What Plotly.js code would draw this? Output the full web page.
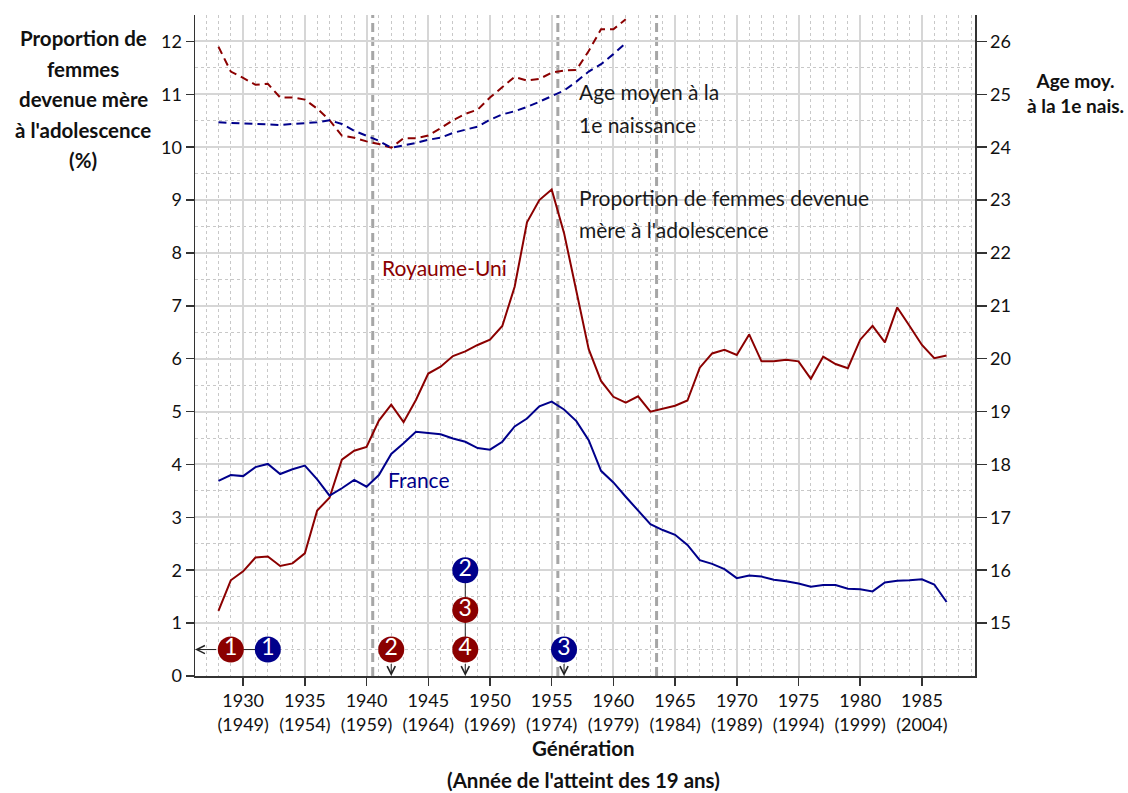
<!DOCTYPE html>
<html>
<head>
<meta charset="utf-8">
<script src="https://cdn.plot.ly/plotly-3.0.1.min.js"></script>
<style>html,body{margin:0;padding:0;background:#fff;}#chart{width:1128px;height:793px;}</style>
</head>
<body>
<div id="chart"></div>
<script>
// ---- data ----
const years = [1928,1929,1930,1931,1932,1933,1934,1935,1936,1937,1938,1939,1940,1941,1942,1943,1944,1945,1946,1947,1948,1949,1950,1951,1952,1953,1954,1955,1956,1957,1958,1959,1960,1961,1962,1963,1964,1965,1966,1967,1968,1969,1970,1971,1972,1973,1974,1975,1976,1977,1978,1979,1980,1981,1982,1983,1984,1985,1986,1987];
const ukTeen = [1.23,1.81,1.98,2.24,2.26,2.08,2.13,2.32,3.13,3.37,4.09,4.26,4.33,4.83,5.13,4.80,5.22,5.72,5.85,6.05,6.14,6.26,6.36,6.62,7.36,8.58,9.00,9.20,8.38,7.25,6.18,5.58,5.28,5.17,5.29,5.00,5.06,5.11,5.21,5.83,6.10,6.17,6.07,6.46,5.95,5.95,5.98,5.95,5.62,6.04,5.90,5.82,6.36,6.62,6.31,6.97,6.62,6.26,6.01,6.06];
const frTeen = [3.69,3.80,3.78,3.95,4.01,3.82,3.91,3.98,3.72,3.41,3.55,3.71,3.58,3.80,4.20,4.40,4.62,4.59,4.57,4.49,4.43,4.31,4.28,4.43,4.72,4.87,5.10,5.19,5.04,4.82,4.46,3.88,3.66,3.39,3.14,2.87,2.76,2.67,2.48,2.19,2.12,2.02,1.85,1.90,1.88,1.82,1.79,1.75,1.69,1.72,1.72,1.65,1.64,1.60,1.77,1.80,1.81,1.83,1.73,1.40];
const ageYears = [1928,1929,1930,1931,1932,1933,1934,1935,1936,1937,1938,1939,1940,1941,1942,1943,1944,1945,1946,1947,1948,1949,1950,1951,1952,1953,1954,1955,1956,1957,1958,1959,1960,1961];
const ukAge = [25.90,25.43,25.31,25.18,25.20,24.94,24.94,24.90,24.73,24.51,24.22,24.18,24.11,24.06,23.99,24.17,24.17,24.22,24.36,24.51,24.63,24.71,24.94,25.14,25.33,25.26,25.29,25.41,25.45,25.46,25.82,26.23,26.23,26.42];
const frAge = [24.47,24.46,24.44,24.43,24.42,24.42,24.44,24.45,24.47,24.51,24.44,24.31,24.22,24.12,23.99,24.03,24.08,24.14,24.18,24.27,24.33,24.39,24.52,24.62,24.68,24.76,24.86,24.96,25.07,25.24,25.43,25.57,25.76,25.97];

const xTickYears = [1930,1935,1940,1945,1950,1955,1960,1965,1970,1975,1980,1985];
const xTickLabels = ['1930<br>(1949)','1935<br>(1954)','1940<br>(1959)','1945<br>(1964)','1950<br>(1969)','1955<br>(1974)','1960<br>(1979)','1965<br>(1984)','1970<br>(1989)','1975<br>(1994)','1980<br>(1999)','1985<br>(2004)'];
const leftTicks = [0,1,2,3,4,5,6,7,8,9,10,11,12];
const rightTicks = [15,16,17,18,19,20,21,22,23,24,25,26];

const eventYears = [1940.5,1955.5,1963.5];

// numbered markers
const markerYear = [1929,1932,1942,1948,1948,1948,1956];
const markerLevel = [0.5,0.5,0.5,0.5,1.25,2.0,0.5];
const markerLabel = ['1','1','2','4','3','2','3'];
const markerCountry = ['UK','FR','UK','UK','UK','FR','FR'];
const markerLinks = [[0,1],[3,4,5]];
const arrowLeft = [0];
const arrowDown = [2,3,6];

const X_MIN = 1926.1, X_MAX = 1989.3;
const RED = '#8b0000', BLUE = '#00008b';
const FONT = 'Lato, "Open Sans", sans-serif';

// ---- traces ----
const linkX = [], linkY = [];
markerLinks.forEach(g => { g.forEach(i => { linkX.push(markerYear[i]); linkY.push(markerLevel[i]); }); linkX.push(null); linkY.push(null); });

const traces = [
  {x: ageYears, y: ukAge, yaxis: 'y2', mode: 'lines', line: {color: RED, width: 2, dash: '8px,5px'}, hoverinfo: 'skip'},
  {x: ageYears, y: frAge, yaxis: 'y2', mode: 'lines', line: {color: BLUE, width: 2, dash: '8px,5px'}, hoverinfo: 'skip'},
  {x: years, y: ukTeen, mode: 'lines', line: {color: RED, width: 2}},
  {x: years, y: frTeen, mode: 'lines', line: {color: BLUE, width: 2}},
  {x: linkX, y: linkY, mode: 'lines', line: {color: '#222', width: 1}, hoverinfo: 'skip'},
  {x: markerYear, y: markerLevel, mode: 'markers+text', text: markerLabel,
   textposition: 'middle center', textfont: {family: FONT, size: 23, color: '#fff'},
   marker: {size: 26, color: markerCountry.map(c => c === 'UK' ? RED : BLUE), line: {width: 0}}}
];

// ---- annotations ----
const ann = [];
const txt = (text, x, y, color) => ann.push({text, x, y, xref: 'x', yref: 'y', showarrow: false, xanchor: 'left', yanchor: 'middle', font: {family: FONT, size: 21, color}});
txt('Age moyen à la', 1957.05, 11.05, '#1a1a1a');
txt('1e naissance', 1957.05, 10.42, '#1a1a1a');
txt('Proportion de femmes devenue', 1957.05, 9.05, '#1a1a1a');
txt('mère à l\'adolescence', 1957.05, 8.44, '#1a1a1a');
txt('Royaume-Uni', 1941.1, 7.73, RED);
txt('France', 1941.6, 3.72, BLUE);

const ptxt = (text, x, y, size) => ann.push({text: '<b>' + text + '</b>', x, y, xref: 'paper', yref: 'paper', showarrow: false, xanchor: 'center', yanchor: 'middle', font: {family: FONT, size: size || 20, color: '#111'}});
const pxX = px => (px - 195) / 780, pxY = py => (676 - py) / 661;
['Proportion de', 'femmes', 'devenue mère', 'à l\'adolescence', '(%)'].forEach((t, i) => ptxt(t, pxX(83), pxY(38 + i * 30.5), 20.5));
ptxt('Age moy.<br>à la 1e nais.', pxX(1075), pxY(92.5), 19);
ptxt('Génération', pxX(583), pxY(748), 20.5);
ptxt('(Année de l\'atteint des 19 ans)', pxX(583), pxY(780), 20.5);

const arrowStyle = {text: '', showarrow: true, arrowhead: 5, arrowsize: 1.6, arrowwidth: 1, arrowcolor: '#222', startstandoff: 13, standoff: 0};
arrowLeft.forEach(i => ann.push(Object.assign({x: X_MIN, xref: 'x', y: markerLevel[i], yref: 'y', ax: markerYear[i], axref: 'x', ay: markerLevel[i], ayref: 'y'}, arrowStyle)));
arrowDown.forEach(i => ann.push(Object.assign({x: markerYear[i], xref: 'x', y: 0, yref: 'y', ax: markerYear[i], axref: 'x', ay: markerLevel[i], ayref: 'y'}, arrowStyle)));

const shapes = eventYears.map(x => ({type: 'line', xref: 'x', yref: 'paper', x0: x, x1: x, y0: 0, y1: 1, line: {color: '#a6a6a6', width: 3, dash: '9px,5px'}, layer: 'between'}));

const axisCommon = {showline: true, linecolor: '#333', linewidth: 1.5, ticks: 'outside', tickcolor: '#333', tickwidth: 1.5, zeroline: false, tickfont: {family: FONT, size: 18, color: '#111'}};

const layout = {
  width: 1128, height: 793,
  margin: {l: 195, r: 153, t: 15, b: 117},
  paper_bgcolor: '#fff', plot_bgcolor: '#fff',
  showlegend: false,
  font: {family: FONT},
  xaxis: Object.assign({}, axisCommon, {
    range: [X_MIN, X_MAX], tickmode: 'array', tickvals: xTickYears, ticktext: xTickLabels, ticklen: 8,
    showgrid: true, gridcolor: '#d6d6d6', gridwidth: 2,
    minor: {tickmode: 'linear', tick0: 1926, dtick: 1, showgrid: true, gridcolor: '#c8c8c8', griddash: 'dot', gridwidth: 1}
  }),
  yaxis: Object.assign({}, axisCommon, {
    range: [0, 12.5], tickmode: 'array', tickvals: leftTicks, ticklen: 8,
    showgrid: true, gridcolor: '#d6d6d6', gridwidth: 2,
    minor: {tickmode: 'linear', tick0: 0, dtick: 0.5, showgrid: true, gridcolor: '#c8c8c8', griddash: 'dot', gridwidth: 1}
  }),
  yaxis2: Object.assign({}, axisCommon, {
    overlaying: 'y', side: 'right', range: [14, 26.5], tickmode: 'array', tickvals: rightTicks, ticklen: 10, showgrid: false
  }),
  annotations: ann,
  shapes: shapes
};

Plotly.newPlot('chart', traces, layout, {displayModeBar: false, staticPlot: true});
</script>
</body>
</html>
